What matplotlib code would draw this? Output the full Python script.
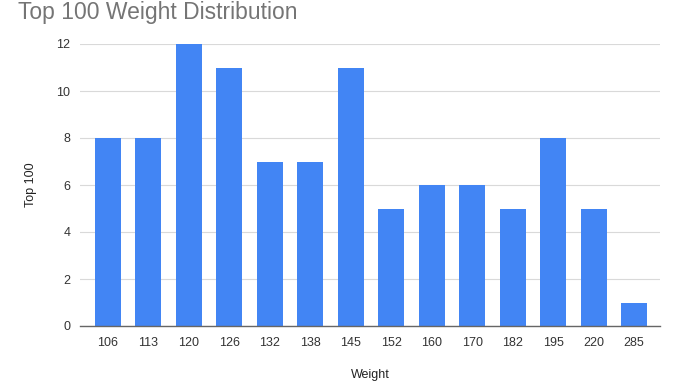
import matplotlib
matplotlib.use("Agg")
import matplotlib.pyplot as plt

categories = ["106", "113", "120", "126", "132", "138", "145", "152", "160", "170", "182", "195", "220", "285"]
values = [8, 8, 12, 11, 7, 7, 11, 5, 6, 6, 5, 8, 5, 1]
yticks = [0, 2, 4, 6, 8, 10, 12]

plt.rcParams['font.family'] = ['Liberation Sans', 'DejaVu Sans']

fig = plt.figure(figsize=(6.8, 3.81), dpi=100)
ax = fig.add_axes([80/680, 1-326/381, 580/680, (326-44)/381])

x = list(range(len(categories)))
ax.bar(x, values, width=0.64, color="#4285F4", zorder=3)
ax.set_xlim(-0.69, len(categories) - 0.36)
ax.set_ylim(0, 12)
ax.set_yticks(yticks)
ax.set_xticks(x)
ax.set_xticklabels(categories)
ax.grid(axis="y", color="#d9d9d9", linewidth=0.8, zorder=0)
for s in ["top", "right", "left"]:
    ax.spines[s].set_visible(False)
ax.spines["bottom"].set_color("#666666")
ax.spines["bottom"].set_linewidth(1)
ax.spines["bottom"].set_zorder(4)
ax.tick_params(axis="both", length=0, labelsize=9, colors="#333333")
ax.tick_params(axis="x", pad=8)
ax.tick_params(axis="y", pad=7)
ax.set_ylabel("Top 100", fontsize=9, color="#222222", labelpad=14)
ax.set_xlabel("Weight", fontsize=9, color="#222222", labelpad=14)
fig.text(18/680, 1-12/381, "Top 100 Weight Distribution", fontsize=16.5, color="#757575", va="center", ha="left")

fig.savefig("out.png", dpi=100)
